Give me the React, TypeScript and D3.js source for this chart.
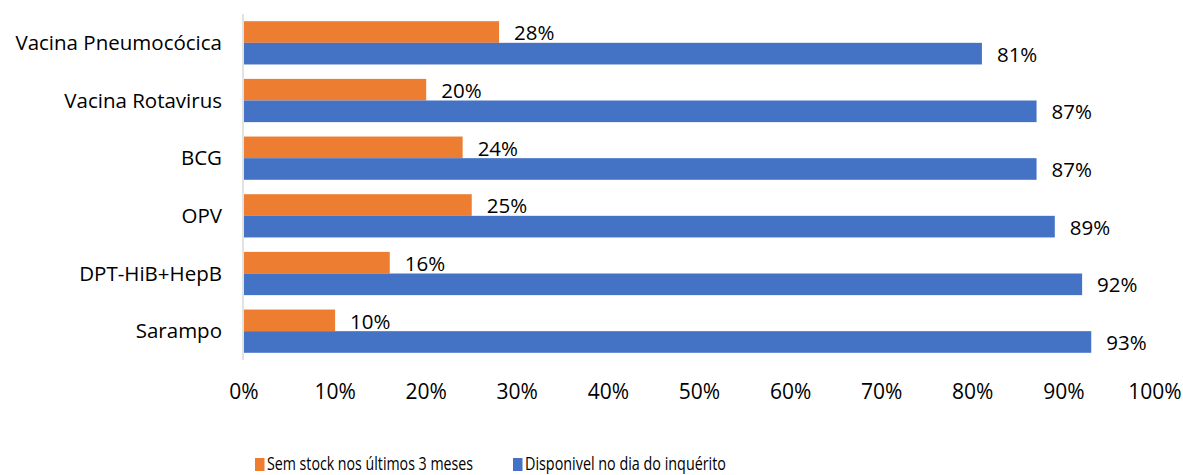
import React from "react";
import * as d3 from "d3";

const categories = ["Vacina Pneumocócica", "Vacina Rotavirus ", "BCG", "OPV", "DPT-HiB+HepB", "Sarampo"];
const semStock = [28, 20, 24, 25, 16, 10];
const disponivel = [81, 87, 87, 89, 92, 93];
const ticks = [0, 10, 20, 30, 40, 50, 60, 70, 80, 90, 100];
const seriesNames = ["Sem stock nos últimos 3 meses", "Disponivel no dia do inquérito"];
const colors = ["#ED7D31", "#4472C4"];

const W = 1183, H = 475;
const FONT = "'Open Sans', sans-serif";

export default function App() {
  const x = d3.scaleLinear().domain([0, 100]).range([244, 1155]);
  const y = d3.scaleBand().domain(categories).range([14, 360]).paddingInner(0.25).paddingOuter(0.125);
  const bw = y.bandwidth() / 2;
  const series = [semStock, disponivel];
  return (
    <svg width={W} height={H} style={{ position: "absolute", left: 0, top: 0 }} fontFamily={FONT}>
      <rect width={W} height={H} fill="#fff" />
      {categories.map((c, i) => {
        const y0 = y(c)!;
        return (
          <g key={c}>
            <text x={222} y={y0 + bw} dy="0.35em" textAnchor="end" fontSize={20.5} fill="#000">{c}</text>
            {series.map((s, k) => (
              <g key={k}>
                <rect x={x(0)} y={y0 + k * bw} width={x(s[i]) - x(0)} height={bw} fill={colors[k]} />
                <text x={x(s[i]) + 15} y={y0 + k * bw + bw / 2 + 1} dy="0.35em" fontSize={20.5} fill="#000">{s[i]}%</text>
              </g>
            ))}
          </g>
        );
      })}
      <line x1={243} x2={243} y1={14} y2={360} stroke="#D9D9D9" strokeWidth={1.5} />
      {ticks.map((t) => (
        <text key={t} x={x(t)} y={392} dy="0.35em" textAnchor="middle" fontSize={21} fill="#000">{t}%</text>
      ))}
      {seriesNames.map((n, k) => {
        const lx = k === 0 ? 255 : 513;
        return (
          <g key={n}>
            <rect x={lx} y={458} width={9.5} height={13} fill={colors[k]} />
            <text x={lx + 12} y={470} fontSize={19} fill="#000" textLength={k === 0 ? 206 : 201} lengthAdjust="spacingAndGlyphs">{n}</text>
          </g>
        );
      })}
    </svg>
  );
}
